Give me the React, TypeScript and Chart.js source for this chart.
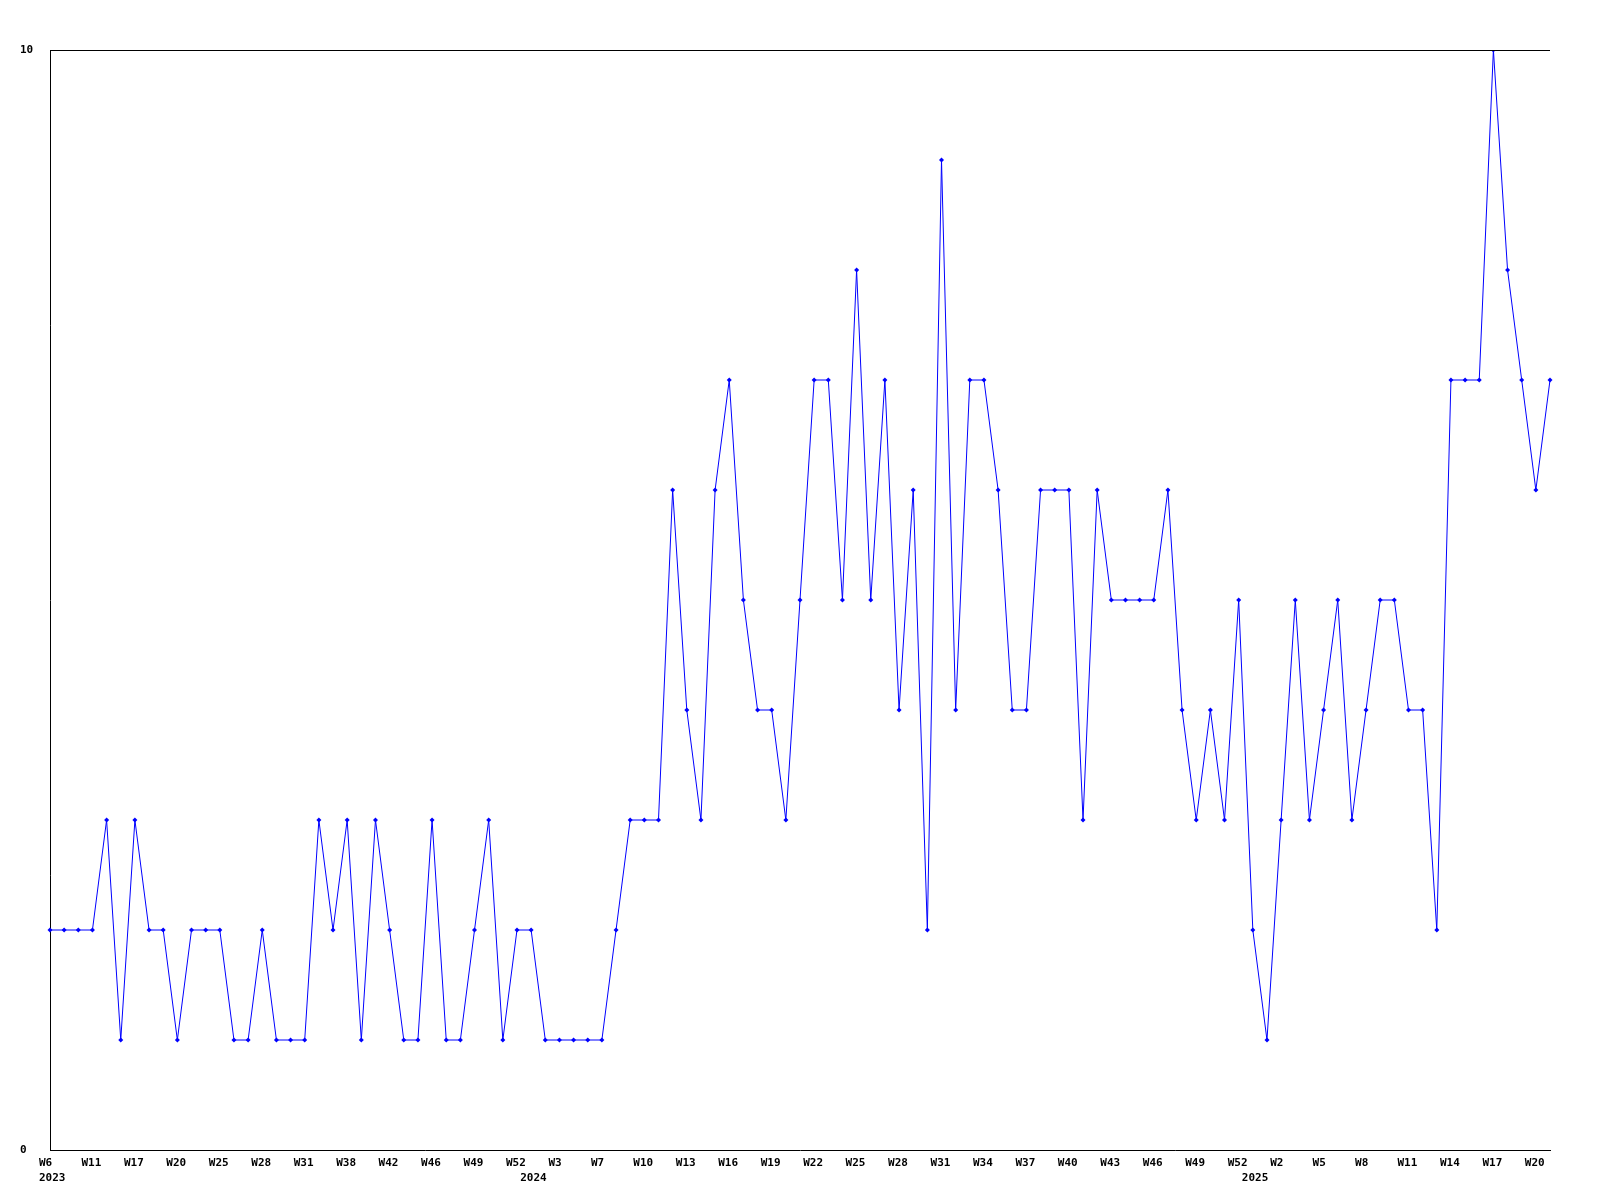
import React, { useEffect, useRef } from "react";
import { Chart, registerables } from "chart.js";

Chart.register(...registerables);

// Category labels: "year-week" for every point
const categories: string[] = [
  "2023-W6", "2023-W7", "2023-W9", "2023-W11", "2023-W13", "2023-W15", "2023-W17", "2023-W18", "2023-W19", "2023-W20",
  "2023-W22", "2023-W24", "2023-W25", "2023-W26", "2023-W27", "2023-W28", "2023-W29", "2023-W30", "2023-W31", "2023-W33",
  "2023-W36", "2023-W38", "2023-W40", "2023-W41", "2023-W42", "2023-W44", "2023-W45", "2023-W46", "2023-W47", "2023-W48",
  "2023-W49", "2023-W50", "2023-W51", "2023-W52",
  "2024-W1", "2024-W2", "2024-W3", "2024-W4", "2024-W5", "2024-W7", "2024-W8", "2024-W9", "2024-W10", "2024-W11",
  "2024-W12", "2024-W13", "2024-W14", "2024-W15", "2024-W16", "2024-W17", "2024-W18", "2024-W19", "2024-W20", "2024-W21",
  "2024-W22", "2024-W23", "2024-W24", "2024-W25", "2024-W26", "2024-W27", "2024-W28", "2024-W29", "2024-W30", "2024-W31",
  "2024-W32", "2024-W33", "2024-W34", "2024-W35", "2024-W36", "2024-W37", "2024-W38", "2024-W39", "2024-W40", "2024-W41",
  "2024-W42", "2024-W43", "2024-W44", "2024-W45", "2024-W46", "2024-W47", "2024-W48", "2024-W49", "2024-W50", "2024-W51",
  "2024-W52",
  "2025-W1", "2025-W1", "2025-W2", "2025-W3", "2025-W4", "2025-W5", "2025-W6", "2025-W7", "2025-W8", "2025-W9",
  "2025-W10", "2025-W11", "2025-W12", "2025-W13", "2025-W14", "2025-W15", "2025-W16", "2025-W17", "2025-W18", "2025-W19",
  "2025-W20", "2025-W21",
];

// Series values
const values: number[] = [
  2, 2, 2, 2, 3, 1, 3, 2, 2, 1, 2, 2, 2, 1, 1, 2, 1, 1, 1, 3,
  2, 3, 1, 3, 2, 1, 1, 3, 1, 1, 2, 3, 1, 2, 2, 1, 1, 1, 1, 1,
  2, 3, 3, 3, 6, 4, 3, 6, 7, 5, 4, 4, 3, 5, 7, 7, 5, 8, 5, 7,
  4, 6, 2, 9, 4, 7, 7, 6, 4, 4, 6, 6, 6, 3, 6, 5, 5, 5, 5, 6,
  4, 3, 4, 3, 5, 2, 1, 3, 5, 3, 4, 5, 3, 4, 5, 5, 4, 4, 2, 7,
  7, 7, 10, 8, 7, 6, 7,
];

// Y tick labels shown
const yTicks: number[] = [0, 10];
const weekLabelEvery = 3;

const frameTop = {
  id: "frameTop",
  afterDraw(chart: any) {
    const { ctx, chartArea } = chart;
    ctx.save();
    ctx.strokeStyle = "#000000";
    ctx.lineWidth = 1;
    ctx.beginPath();
    ctx.moveTo(chartArea.left, Math.round(chartArea.top) + 0.5);
    ctx.lineTo(chartArea.right, Math.round(chartArea.top) + 0.5);
    ctx.stroke();
    ctx.restore();
  },
};

export default function App() {
  const ref = useRef<HTMLCanvasElement | null>(null);

  useEffect(() => {
    if (!ref.current) return;
    const font = { family: "'DejaVu Sans Mono', monospace", size: 11, weight: "bold" as const, lineHeight: 14.5 / 11 };
    const chart = new Chart(ref.current, {
      type: "line",
      data: {
        labels: categories,
        datasets: [
          {
            data: values,
            borderColor: "#0000ff",
            backgroundColor: "#0000ff",
            borderWidth: 1,
            tension: 0,
            pointStyle: "rectRot",
            pointRadius: 2.5,
            pointBorderWidth: 0,
            pointBackgroundColor: "#0000ff",
            fill: false,
          },
        ],
      },
      options: {
        animation: false,
        responsive: false,
        events: [],
        layout: { padding: { left: 20, top: 50, right: 50, bottom: 0 } },
        plugins: { legend: { display: false }, tooltip: { enabled: false }, title: { display: false } },
        scales: {
          x: {
            type: "category",
            offset: false,
            grid: { display: false, drawTicks: false },
            border: { display: true, color: "#000000", width: 1 },
            afterFit: (scale: any) => {
              scale.height = 50;
            },
            ticks: {
              autoSkip: false,
              maxRotation: 0,
              minRotation: 0,
              align: "start",
              labelOffset: -11,
              padding: 6,
              color: "#000000",
              font,
              callback: (_v: any, i: number) => {
                const [year, week] = categories[i].split("-");
                const prevYear = i > 0 ? categories[i - 1].split("-")[0] : "";
                const showWeek = i % weekLabelEvery === 0;
                const showYear = year !== prevYear;
                if (showWeek && showYear) return [week, year];
                if (showYear) return ["", year];
                if (showWeek) return week;
                return null as any;
              },
            },
          },
          y: {
            min: 0,
            max: 10,
            grid: { display: false, drawTicks: false },
            border: { display: true, color: "#000000", width: 1 },
            afterFit: (scale: any) => {
              scale.width = 30;
            },
            afterBuildTicks: (scale: any) => {
              scale.ticks = yTicks.map((v) => ({ value: v }));
            },
            ticks: {
              crossAlign: "far",
              color: "#000000",
              font,
              callback: (v: any) => String(v),
            },
          },
        },
      },
      plugins: [frameTop],
    });
    return () => chart.destroy();
  }, []);

  return (
    <div style={{ position: "fixed", left: 0, top: 0, width: 1600, height: 1200, background: "#ffffff" }}>
      <canvas ref={ref} width={1600} height={1200} style={{ width: 1600, height: 1200, display: "block" }} />
    </div>
  );
}
